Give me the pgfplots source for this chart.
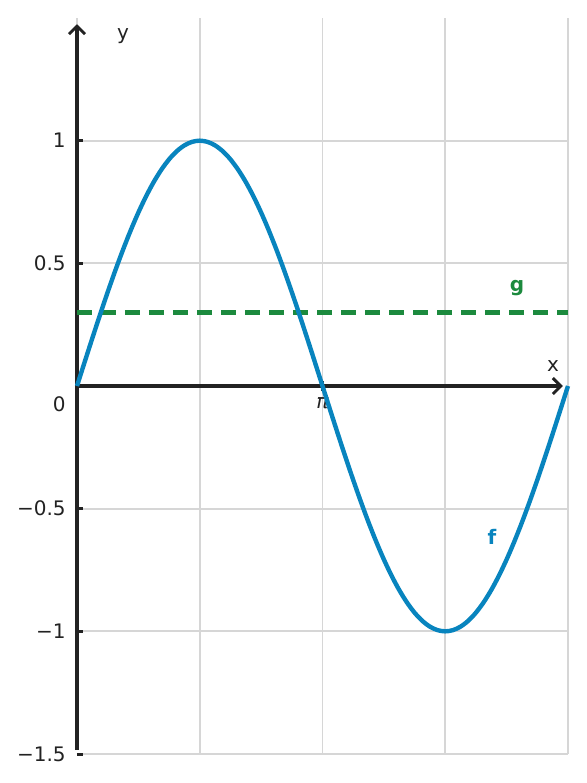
\documentclass[border=0pt]{standalone}
\usepackage{fontspec}
\setmainfont{DejaVu Sans}
\usepackage{pgfplots}
\pgfplotsset{compat=1.18}
\usetikzlibrary{arrows.meta}
\definecolor{fblue}{RGB}{8,132,190}
\definecolor{ggreen}{RGB}{28,138,62}
\definecolor{txt}{RGB}{34,34,34}
\definecolor{gridc}{RGB}{214,214,214}
\begin{document}
\begin{tikzpicture}
\begin{axis}[
  name=ax,
  set layers=standard,
  scale only axis,
  width=245.5pt, height=368pt,
  xmin=0, xmax=6.28319,
  ymin=-1.5, ymax=1.5,
  axis lines=middle,
  axis line style={txt, line width=1.6pt},
  x axis line style={-{Straight Barb[length=4pt,width=8pt,line width=1.5pt]}, shorten >=2.5pt},
  y axis line style={-{Straight Barb[length=4pt,width=8pt,line width=1.5pt]}, shorten >=3pt, shorten <=2pt},
  clip=false,
  xtick={3.14159},
  xticklabels={\textit{π}},
  extra x ticks={1.5708,4.71239,6.28319},
  extra x tick labels={},
  extra x tick style={grid=major, major tick length=0pt},
  ytick={-1.5,-1,-0.5,0.5,1},
  yticklabels={−1.5,−1,−0.5,0.5,1},
  grid=major,
  major grid style={gridc, line width=0.9pt},
  tick align=center,
  major tick length=5pt,
  xtick style={txt, line width=1.5pt},
  ytick style={txt, line width=1.5pt, /pgfplots/major tick length=3pt, xshift=1.5pt},
  ticklabel style={txt, font=\fontsize{10}{12}\selectfont},
  yticklabel style={anchor=east, inner sep=0pt, xshift=-3pt},
  xticklabel style={anchor=center, inner sep=0pt, yshift=-6pt},
]
\draw[gridc, line width=0.9pt] (axis cs:0,1.5) -- ([yshift=-3pt]axis cs:0,1.5);
\node[txt, anchor=east, inner sep=0pt, font=\fontsize{10}{12}\selectfont] at ([xshift=-5.5pt,yshift=-9pt]axis cs:0,0) {0};
\node[txt, inner sep=0pt, font=\fontsize{10}{12}\selectfont] at (axis cs:0.589,1.426) {y};
\node[txt, inner sep=0pt, font=\fontsize{10}{12}\selectfont] at (axis cs:6.091,0.081) {x};
\node[ggreen, inner sep=0pt, font=\fontsize{10}{12}\selectfont\bfseries] at (axis cs:5.630,0.399) {g};
\node[fblue, inner sep=0pt, font=\fontsize{10}{12}\selectfont\bfseries] at (axis cs:5.310,-0.615) {f};
% g
\addplot[ggreen, line width=2.1pt, dash pattern=on 7.5pt off 4.5pt] coordinates {(0,0.3) (6.28319,0.3)};
% f
\addplot[fblue, line width=2.2pt, smooth] coordinates {
(0,0) (0.09817,0.09802) (0.19635,0.19509) (0.29452,0.29028) (0.39270,0.38268)
(0.49087,0.47140) (0.58905,0.55557) (0.68722,0.63439) (0.78540,0.70711)
(0.88357,0.77301) (0.98175,0.83147) (1.07992,0.88192) (1.17810,0.92388)
(1.27627,0.95694) (1.37445,0.98079) (1.47262,0.99518) (1.57080,1)
(1.66897,0.99518) (1.76715,0.98079) (1.86532,0.95694) (1.96350,0.92388)
(2.06167,0.88192) (2.15984,0.83147) (2.25802,0.77301) (2.35619,0.70711)
(2.45437,0.63439) (2.55254,0.55557) (2.65072,0.47140) (2.74889,0.38268)
(2.84707,0.29028) (2.94524,0.19509) (3.04342,0.09802) (3.14159,0)
(3.23977,-0.09802) (3.33794,-0.19509) (3.43612,-0.29028) (3.53429,-0.38268)
(3.63247,-0.47140) (3.73064,-0.55557) (3.82882,-0.63439) (3.92699,-0.70711)
(4.02517,-0.77301) (4.12334,-0.83147) (4.22152,-0.88192) (4.31969,-0.92388)
(4.41786,-0.95694) (4.51604,-0.98079) (4.61421,-0.99518) (4.71239,-1)
(4.81056,-0.99518) (4.90874,-0.98079) (5.00691,-0.95694) (5.10509,-0.92388)
(5.20326,-0.88192) (5.30144,-0.83147) (5.39961,-0.77301) (5.49779,-0.70711)
(5.59596,-0.63439) (5.69414,-0.55557) (5.79231,-0.47140) (5.89049,-0.38268)
(5.98866,-0.29028) (6.08684,-0.19509) (6.18501,-0.09802) (6.28319,0)
};
\end{axis}
\pgfresetboundingbox
\path (ax.south west) ++(-38.5pt,-14.5pt) rectangle ++(293pt,391.5pt);
\end{tikzpicture}
\end{document}
